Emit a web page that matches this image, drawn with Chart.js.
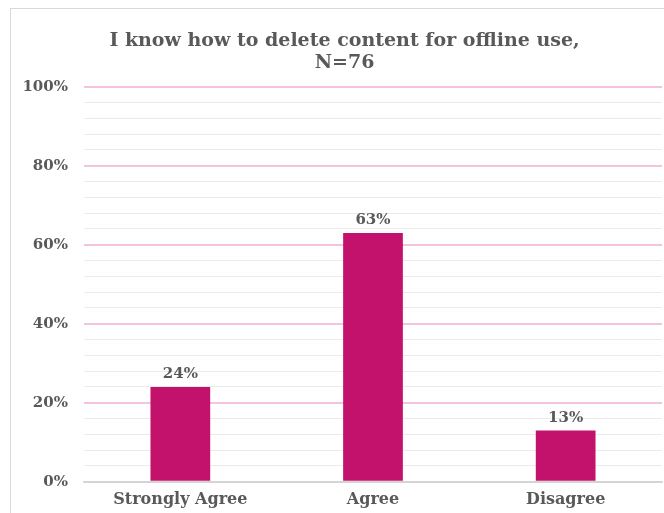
<!DOCTYPE html>
<html>
<head>
<meta charset="utf-8">
<script src="https://cdn.jsdelivr.net/npm/chart.js@4"></script>
<style>
  body { margin: 0; background: #ffffff; overflow: hidden; }
  #frame {
    position: absolute;
    left: 10px;
    top: 8px;
    width: 667px;
    height: 508px;
    border-top: 1px solid #d9d9d9;
    border-left: 1px solid #d9d9d9;
  }
</style>
</head>
<body>
<div id="frame"><canvas id="chart" width="667" height="508"></canvas></div>
<script>
const categories = ['Strongly Agree', 'Agree', 'Disagree'];
const percentValues = [24, 63, 13];
const titleLines = ['I know how to delete content for offline use,', 'N=76'];
const majorTicks = [0, 20, 40, 60, 80, 100];

const textGrey = '#595959';
const serif = "'DejaVu Serif', Georgia, serif";

// write the percentage above each bar
const barLabels = {
    id: 'barLabels',
    afterDatasetsDraw(chart) {
        const ctx = chart.ctx;
        const meta = chart.getDatasetMeta(0);
        ctx.save();
        ctx.font = 'bold 15px ' + serif;
        ctx.fillStyle = textGrey;
        ctx.textAlign = 'center';
        ctx.textBaseline = 'bottom';
        meta.data.forEach(function(bar, i) {
            ctx.fillText(percentValues[i] + '%', bar.x, bar.y - 5);
        });
        ctx.restore();
    }
};

// nudge the title a little to the right of the plot's centre
const titleShift = {
    id: 'titleShift',
    afterLayout(chart) {
        if (chart.titleBlock) {
            chart.titleBlock.left += 8;
            chart.titleBlock.right += 8;
        }
    }
};

document.addEventListener('DOMContentLoaded', function() {
    const ctx = document.getElementById('chart').getContext('2d');

    new Chart(ctx, {
        type: 'bar',
        data: {
            labels: categories,
            datasets: [{
                data: percentValues,
                backgroundColor: '#c3126c',
                categoryPercentage: 1,
                barPercentage: 0.31
            }]
        },
        options: {
            responsive: false,
            animation: false,
            layout: { padding: { left: 0, right: 16, top: 0, bottom: 0 } },
            plugins: {
                legend: { display: false },
                tooltip: { enabled: false },
                title: {
                    display: true,
                    text: titleLines,
                    color: textGrey,
                    font: { family: serif, size: 19, weight: 'bold', lineHeight: 1.15 },
                    padding: { top: 21, bottom: 13 }
                }
            },
            scales: {
                x: {
                    grid: { display: false, drawTicks: false },
                    border: { color: '#d4d4d4', width: 1.5 },
                    ticks: {
                        color: textGrey,
                        font: { family: serif, size: 16, weight: 'bold' },
                        padding: 8,
                        maxRotation: 0
                    }
                },
                y: {
                    min: 0,
                    max: 100,
                    afterFit: function(scale) { scale.width = 73; },
                    grid: {
                        drawTicks: false,
                        color: function(c) {
                            if (c.tick.value === 0) return '#d4d4d4';
                            return majorTicks.includes(c.tick.value) ? '#f6c3de' : '#ebebeb';
                        },
                        lineWidth: function(c) {
                            return majorTicks.includes(c.tick.value) ? 2 : 1;
                        }
                    },
                    border: { display: false },
                    ticks: {
                        stepSize: 4,
                        autoSkip: false,
                        color: textGrey,
                        padding: 16,
                        font: { family: serif, size: 15, weight: 'bold' },
                        callback: function(v) {
                            return majorTicks.includes(v) ? v + '%' : '';
                        }
                    }
                }
            }
        },
        plugins: [barLabels, titleShift]
    });
});
</script>
</body>
</html>
